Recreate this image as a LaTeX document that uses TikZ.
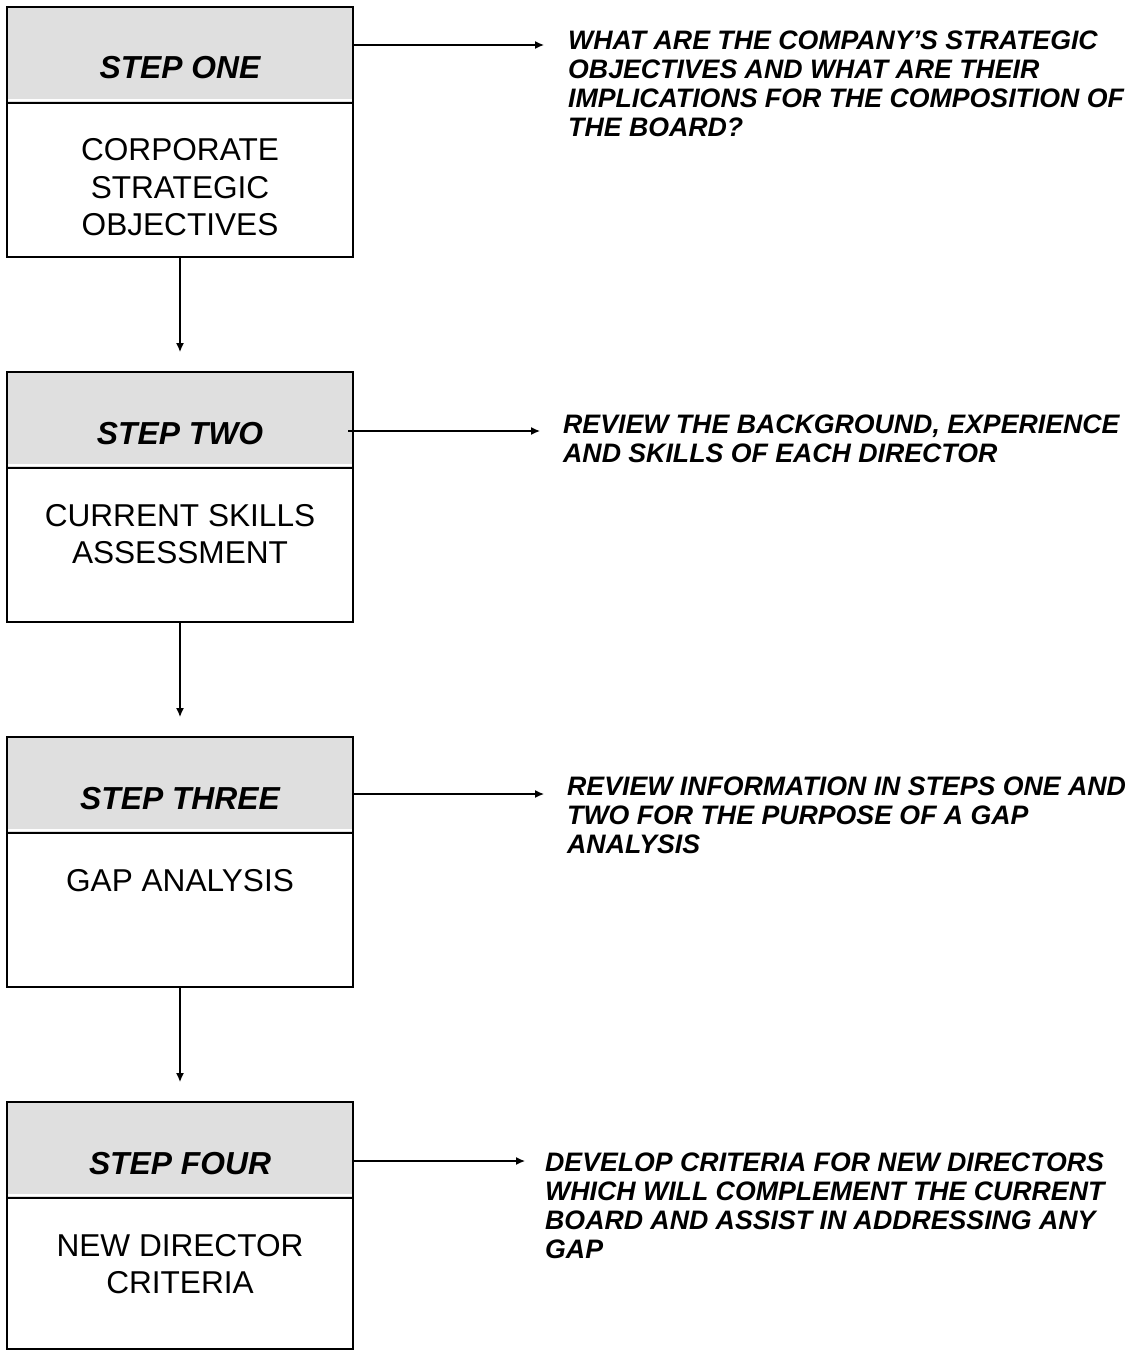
\documentclass[tikz,border=0pt]{standalone}
\usepackage{fontspec}
\setmainfont{Liberation Sans}
\usetikzlibrary{arrows.meta,calc}
\definecolor{hdrgray}{HTML}{DFDFDF}
\tikzset{
  hdr/.style={draw=black, line width=2.3pt, fill=hdrgray, minimum width=346pt,
    minimum height=96pt, inner sep=0pt, outer sep=0pt,
    path picture={\draw[white, line width=1.5pt]
      ([yshift=3pt]path picture bounding box.south west) --
      ([yshift=3pt]path picture bounding box.south east);}},
  bodybox/.style={draw=black, line width=2.3pt, minimum width=346pt,
    inner sep=0pt, outer sep=0pt},
  hdrtext/.style={anchor=base, inner sep=0pt,
    font=\fontsize{31.8}{37}\selectfont\bfseries\itshape},
  bodytext/.style={anchor=base, inner sep=0pt, align=center,
    font=\fontsize{31.6}{37}\selectfont},
  sidetext/.style={anchor=base west, inner sep=0pt, align=left,
    font=\fontsize{26.7}{29}\selectfont\bfseries\itshape},
  arr/.style={-{Latex[length=9pt,width=8pt]}, line width=1.3pt},
}
\begin{document}
\begin{tikzpicture}[x=1pt,y=-1pt]
\useasboundingbox (0,0) rectangle (1131,1351);

% Step one
\node[bodybox, minimum height=154pt] (b1) at (180,180) {};
\node[hdr] (h1) at (180,55) {};
\node[hdrtext] (t1) at (180,79) {STEP ONE};
\node[bodytext] (c1) at (180,235) {CORPORATE\\STRATEGIC\\OBJECTIVES};

% Step two
\node[bodybox, minimum height=154pt] (b2) at (180,545) {};
\node[hdr] (h2) at (180,420) {};
\node[hdrtext] (t2) at (180,444) {STEP TWO};
\node[bodytext] (c2) at (180,563) {CURRENT SKILLS\\ASSESSMENT};

% Step three
\node[bodybox, minimum height=154pt] (b3) at (180,910) {};
\node[hdr] (h3) at (180,785) {};
\node[hdrtext] (t3) at (180,809) {STEP THREE};
\node[bodytext] (c3) at (180,891) {GAP ANALYSIS};

% Step four
\node[bodybox, minimum height=151pt] (b4) at (180,1273.5) {};
\node[hdr] (h4) at (180,1150) {};
\node[hdrtext] (t4) at (180,1174) {STEP FOUR};
\node[bodytext] (c4) at (180,1293) {NEW DIRECTOR\\CRITERIA};

% vertical connectors
\draw[arr, shorten >=20pt] (b1.south) -- (h2.north);
\draw[arr, shorten >=20pt] (b2.south) -- (h3.north);
\draw[arr, shorten >=20pt] (b3.south) -- (h4.north);

% side notes (anchor = baseline of the last line)
\node[sidetext] (r1) at (568,137) {WHAT ARE THE COMPANY’S STRATEGIC\\OBJECTIVES AND WHAT ARE THEIR\\IMPLICATIONS FOR THE COMPOSITION OF\\THE BOARD?};
\node[sidetext] (r2) at (563,462) {REVIEW THE BACKGROUND, EXPERIENCE\\AND SKILLS OF EACH DIRECTOR};
\node[sidetext] (r3) at (567,853) {REVIEW INFORMATION IN STEPS ONE AND\\TWO FOR THE PURPOSE OF A GAP\\ANALYSIS};
\node[sidetext] (r4) at (545,1258) {DEVELOP CRITERIA FOR NEW DIRECTORS\\WHICH WILL COMPLEMENT THE CURRENT\\BOARD AND ASSIST IN ADDRESSING ANY\\GAP};

\coordinate (a1) at (544,45);
\coordinate (a2) at (540,431);
\coordinate (a3) at (544,794);
\coordinate (a4) at (525,1161);
\draw[arr] (h1.east |- a1) -- (a1);
\draw[arr] ($(h2.east |- a2)+(-5,0)$) -- (a2);
\draw[arr] (h3.east |- a3) -- (a3);
\draw[arr] (h4.east |- a4) -- (a4);
\end{tikzpicture}
\end{document}
